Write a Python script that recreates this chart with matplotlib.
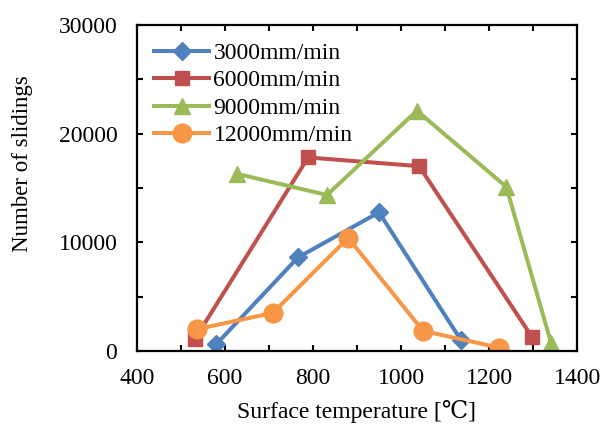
import matplotlib.pyplot as plt
from matplotlib.ticker import MultipleLocator

plt.rcParams['font.family'] = ['Liberation Serif', 'DejaVu Serif']

# data
t_3000 = [580, 766, 950, 1136]
n_3000 = [600, 8600, 12750, 1000]
t_6000 = [532, 789, 1041, 1298]
n_6000 = [1100, 17800, 17000, 1250]
t_9000 = [627, 832, 1036, 1239, 1341]
n_9000 = [16300, 14350, 22100, 15100, 700]
t_12000 = [536, 709, 880, 1050, 1223]
n_12000 = [2000, 3500, 10400, 1850, 300]

fig = plt.figure(figsize=(6.16, 4.28), dpi=100)
ax = fig.add_axes([0.222, 0.18, 0.715, 0.762])

lw = 2.9
ax.plot(t_3000, n_3000, color='#4F81BD', lw=lw, marker='D', ms=9, label='3000mm/min')
ax.plot(t_6000, n_6000, color='#C0504D', lw=lw, marker='s', ms=10, label='6000mm/min')
ax.plot(t_9000, n_9000, color='#9BBB59', lw=lw, marker='^', ms=11, label='9000mm/min')
ax.plot(t_12000, n_12000, color='#F79646', lw=lw, marker='o', ms=13.5, label='12000mm/min')

ax.set_xlim(400, 1400)
ax.set_ylim(0, 30000)
ax.xaxis.set_major_locator(MultipleLocator(200))
ax.xaxis.set_minor_locator(MultipleLocator(100))
ax.yaxis.set_major_locator(MultipleLocator(10000))
ax.yaxis.set_minor_locator(MultipleLocator(5000))
ax.tick_params(which='both', direction='in', top=True, right=True, length=4.5, width=1.5, labelsize=17)
ax.tick_params(axis='y', pad=14)
ax.tick_params(axis='x', pad=12)
for s in ax.spines.values():
    s.set_linewidth(1.6)

ax.set_xlabel('Surface temperature [℃]', fontsize=17, labelpad=8)
ax.set_ylabel('Number of slidings', fontsize=16.5)
ax.yaxis.set_label_coords(-0.235, 0.575)

ax.legend(loc='upper left', fontsize=17, frameon=False, handlelength=2.3,
          borderaxespad=0.45, labelspacing=0.25, handletextpad=0.2, borderpad=0.3)

fig.savefig('out.png', dpi=100)
